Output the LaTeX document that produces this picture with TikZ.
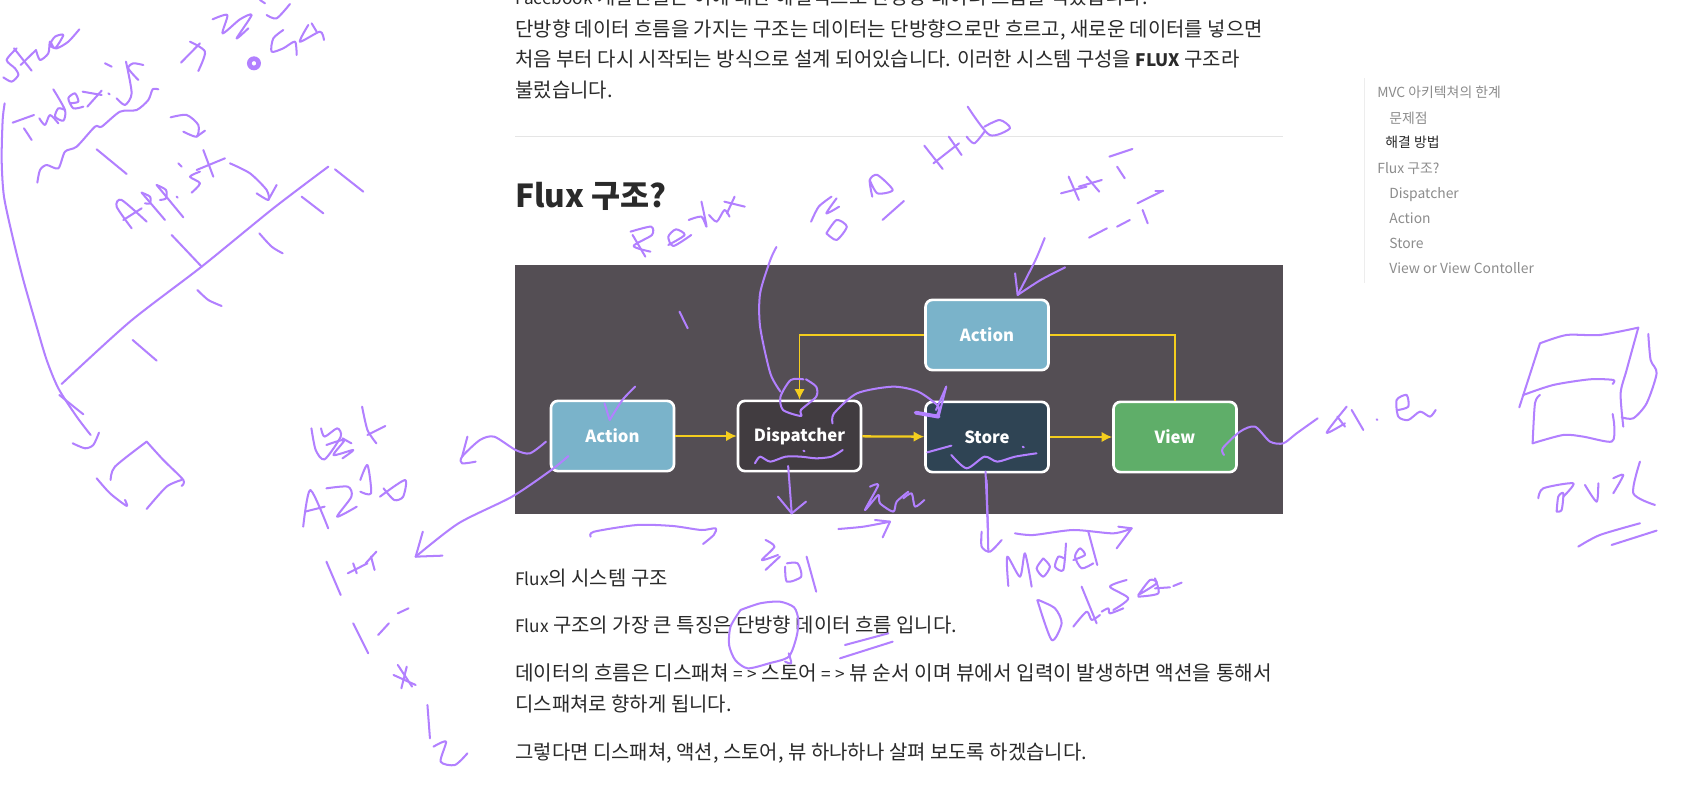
\documentclass[tikz,border=0pt]{standalone}
\usepackage{fontspec}
\usepackage{xcolor}
\setmainfont{Noto Sans CJK KR}
\definecolor{inkpurple}{HTML}{B280FF}
\definecolor{panelgray}{HTML}{544E54}
\definecolor{arrowyellow}{HTML}{F5CE1E}
\definecolor{bodyblack}{HTML}{2A2A2A}
\definecolor{tocgray}{HTML}{8C8C8C}
\tikzset{
  inkline/.style={draw=inkpurple, line width=1.15pt, line cap=round, line join=round},
  bodytext/.style={anchor=base west, inner sep=0pt, text=bodyblack, font=\fontsize{11.35}{13}\selectfont},
  tocitem/.style={anchor=base west, inner sep=0pt, text=tocgray, font=\fontsize{7.9}{10}\selectfont},
  flowbox/.style={draw=white, line width=1.5pt, rounded corners=4pt, minimum width=70pt, minimum height=40pt,
    inner sep=0pt, text=white, font=\fontsize{9.5}{12}\selectfont\bfseries},
  flowline/.style={draw=arrowyellow, line width=1pt},
  flowarrow/.style={flowline, line width=1.3pt, -{Latex[length=6pt,width=6pt]}}
}
\usetikzlibrary{arrows.meta}
\newcommand{\ink}[1]{\draw[inkline] plot[smooth, tension=0.45] coordinates {#1};}
\newcommand{\lat}[1]{{\fontsize{9.8}{12}\selectfont #1}}
\begin{document}
\begin{tikzpicture}[x=0.02cm, y=-0.02cm]
  \useasboundingbox (0,0) rectangle (1681,789);
  \clip (0,0) rectangle (1681,789);
  \fill[white] (0,0) rectangle (1681,789);

  % Article text
  \node[bodytext] (introa) at (515,4) {\lat{Facebook} 개발진들은 이에 대한 해결책으로 단방향 데이터 흐름을 택했습니다.};
  \node[bodytext] (introb) at (515,36) {단방향 데이터 흐름을 가지는 구조는 데이터는 단방향으로만 흐르고, 새로운 데이터를 넣으면};
  \node[bodytext] (introc) at (515,66) {처음 부터 다시 시작되는 방식으로 설계 되어있습니다. 이러한 시스템 구성을 \lat{\textbf{FLUX}} 구조라};
  \node[bodytext] (introd) at (515,97) {불렀습니다.};
  \fill[black!10] (515,135.5) rectangle (1283,136.5);
  \node[bodytext, font=\fontsize{18}{22}\selectfont\bfseries] (heading) at (515,207) {Flux 구조?};

  % Panel
  \fill[panelgray] (515,265) rectangle (1283,514);

  % Boxes
  \node[flowbox, fill={rgb,255:red,122;green,179;blue,202}] (actionleft) at (612.5,436) {Action};
  \node[flowbox, fill={rgb,255:red,65;green,60;blue,64}] (dispatcher) at (799.5,436) {Dispatcher};
  \node[flowbox, fill={rgb,255:red,47;green,68;blue,84}] (store) at (987,437) {Store};
  \node[flowbox, fill={rgb,255:red,95;green,174;blue,105}] (view) at (1175,437) {View};
  \node[flowbox, fill={rgb,255:red,122;green,179;blue,202}] (actiontop) at (987,335) {Action};

  % Flow
  \draw[flowarrow] (actionleft) -- (dispatcher);
  \draw[flowarrow] (dispatcher) -- (store);
  \draw[flowarrow] (store) -- (view);
  \draw[flowline] (view) |- (actiontop);
  \draw[flowline, -{Latex[length=6pt,width=6pt]}] (actiontop) -| (dispatcher);

  % Text under the panel
  \node[bodytext] (captiona) at (515,585) {\lat{Flux}의 시스템 구조};
  \node[bodytext] (captionb) at (515,632) {\lat{Flux} 구조의 가장 큰 특징은 단방향 데이터 흐름 입니다.};
  \node[bodytext, font=\fontsize{11.5}{13}\selectfont] (captionc) at (515,680) {데이터의 흐름은 디스패쳐 \lat{=\hspace{2.5pt}>} 스토어 \lat{=\hspace{2.5pt}>} 뷰 순서 이며 뷰에서 입력이 발생하면 액션을 통해서};
  \node[bodytext] (captiond) at (515,711) {디스패쳐로 향하게 됩니다.};
  \node[bodytext] (captione) at (515,759) {그렇다면 디스패쳐, 액션, 스토어, 뷰 하나하나 살펴 보도록 하겠습니다.};

  % Table of contents
  \fill[black!7] (1363.5,78) rectangle (1364.5,283);
  \node[tocitem] (tocmvc) at (1377,97) {MVC 아키텍쳐의 한계};
  \node[tocitem] (tocproblem) at (1389,123) {문제점};
  \node[tocitem, text=bodyblack] (tocfix) at (1385,147) {해결 방법};
  \node[tocitem] (tocflux) at (1377,173) {Flux 구조?};
  \node[tocitem] (tocdisp) at (1389,198) {Dispatcher};
  \node[tocitem] (tocaction) at (1389,223) {Action};
  \node[tocitem] (tocstore) at (1389,248) {Store};
  \node[tocitem] (tocview) at (1389,273) {View or View Contoller};

  % Pen strokes, left side
  \begin{scope}[xscale=0.3333, yscale=0.3333]
    \ink{(50,145)(20,180)(45,205)(55,225)(35,245)(10,232)}
    \ink{(42,145)(95,212)}
    \ink{(62,195)(108,150)}
    \ink{(108,150)(120,180)(145,160)(150,125)(165,145)(190,105)(165,110)(150,135)(170,145)(205,125)(238,88)}
    \ink{(14,310)(8,360)(5,480)(12,590)(40,720)(70,840)(110,980)(140,1080)(175,1165)(230,1250)(272,1305)}
    \ink{(178,1185)(215,1215)(250,1243)}
    \ink{(218,1330)(255,1345)(280,1335)(297,1298)}
    \ink{(38,368)(102,345)}
    \ink{(72,385)(95,420)}
    \ink{(118,355)(135,375)(150,345)(175,370)}
    \ink{(160,268)(195,330)(190,362)(165,350)(175,325)(195,330)}
    \ink{(210,310)(235,305)(225,280)(205,295)(220,325)(250,320)}
    \ink{(248,275)(305,285)}
    \ink{(262,320)(305,272)}
    \ink{(325,280)(329,283)}
    \ink{(378,185)(395,280)(375,315)(350,295)}
    \ink{(315,190)(335,200)}
    \ink{(430,195)(400,190)(385,205)(415,240)}
    \ink{(112,548)(120,510)(140,495)(175,505)(195,455)(230,440)(285,380)(305,380)(360,335)(410,330)(445,300)(458,268)(475,268)}
    \ink{(543,188)(600,130)}
    \ink{(570,125)(615,155)(595,213)}
    \ink{(638,58)(682,45)(668,100)(720,58)(755,45)(710,115)(745,85)}
    \ink{(780,0)(795,10)}
    \ink{(800,45)(830,55)(870,12)}
    \ink{(850,90)(820,115)(815,155)(850,145)(885,125)(890,165)}
    \ink{(925,75)(900,125)(960,95)(972,120)}
    \ink{(935,70)(950,95)}
    \fill[inkpurple, even odd rule] (762,190) circle (21) (762,190) circle (7);
    \ink{(512,352)(560,345)(595,375)(590,410)(550,395)}
    \ink{(590,410)(615,392)}
    \ink{(290,448)(380,522)}
    \ink{(395,685)(350,620)(365,600)(440,665)}
    \ink{(370,660)(425,625)}
    \ink{(425,578)(495,660)}
    \ink{(425,578)(450,590)(450,610)(435,610)}
    \ink{(470,555)(550,652)}
    \ink{(470,555)(498,570)(498,595)(480,600)}
    \ink{(530,590)(533,593)}
    \ink{(535,490)(545,500)}
    \ink{(600,515)(570,530)(600,550)(575,578)}
    \ink{(610,450)(640,530)}
    \ink{(590,510)(675,475)}
    \ink{(690,490)(750,520)(800,570)(805,600)(770,580)}
    \ink{(805,600)(830,555)}
    \ink{(185,1152)(390,965)(605,800)(820,625)(985,500)}
    \ink{(515,705)(605,800)}
    \ink{(592,870)(625,900)(665,918)}
    \ink{(398,1020)(470,1082)}
    \ink{(778,700)(815,740)(848,760)}
    \ink{(905,590)(970,640)}
    \ink{(1005,508)(1090,575)}
    \ink{(332,1440)(345,1400)(440,1325)}
    \ink{(440,1325)(490,1380)(550,1440)(545,1458)}
    \ink{(545,1440)(500,1460)(440,1527)}
    \ink{(290,1435)(330,1480)(380,1518)(375,1500)}
  \end{scope}

  % Pen strokes, around the first Action box
  \begin{scope}[shift={(280,400)}, xscale=0.357, yscale=0.3333]
    \ink{(88,85)(100,150)(125,178)(170,110)(160,85)(125,110)(115,85)}
    \ink{(230,20)(245,90)(270,130)}
    \ink{(295,78)(245,105)}
    \ink{(175,115)(200,130)}
    \ink{(130,135)(180,120)(150,165)(205,150)(175,175)}
    \ink{(65,380)(85,270)(135,385)}
    \ink{(70,335)(125,320)}
    \ink{(130,265)(190,260)(200,290)(160,350)(215,320)}
    \ink{(225,240)(245,195)(255,280)(225,275)}
    \ink{(280,290)(350,240)(345,290)(320,300)(290,265)}
    \ink{(130,485)(170,585)}
    \ink{(190,520)(245,490)}
    \ink{(205,490)(215,520)}
    \ink{(240,490)(270,455)}
    \ink{(255,470)(265,510)}
    \ink{(205,670)(247,760)}
    \ink{(275,705)(305,670)}
    \ink{(330,640)(360,625)}
    \ink{(330,795)(370,860)}
    \ink{(355,800)(340,865)}
    \ink{(318,825)(380,855)}
    \ink{(413,915)(420,1015)}
    \ink{(430,1040)(465,1025)(450,1085)(490,1095)(525,1060)}
    \ink{(808,168)(760,210)(650,290)(500,370)(380,470)}
    \ink{(380,470)(455,467)}
    \ink{(380,470)(400,395)}
    \ink{(745,125)(700,160)(660,150)(600,110)(560,120)(510,170)(510,190)(548,185)}
    \ink{(510,170)(525,110)}
    \ink{(870,410)(880,395)(1000,375)(1100,378)(1180,390)(1220,385)(1215,405)(1185,432)}
    \ink{(1360,420)(1385,440)(1350,480)(1395,465)}
    \ink{(1360,510)(1400,470)}
    \ink{(1420,490)(1450,490)(1460,530)(1420,545)(1415,500)}
    \ink{(1475,470)(1502,575)}
    \ink{(1290,630)(1345,610)(1400,605)(1440,622)(1452,660)(1447,710)(1425,770)(1370,790)(1310,805)(1275,780)(1258,735)(1262,680)(1290,630)}
    \ink{(1415,785)(1432,790)(1425,760)}
  \end{scope}

  % Pen strokes, over the heading area
  \begin{scope}[shift={(500,0)}, xscale=0.51, yscale=0.3333]
    \ink{(256,695)(296,680)(298,705)(262,738)(295,755)}
    \ink{(260,705)(285,770)}
    \ink{(330,735)(362,705)(345,688)(330,710)(340,738)(375,705)}
    \ink{(370,660)(395,650)(405,680)(395,605)}
    \ink{(410,645)(425,665)(440,630)(450,650)}
    \ink{(440,605)(480,620)}
    \ink{(460,590)(445,640)}
    \ink{(610,665)(625,620)(650,590)}
    \ink{(660,595)(640,640)(665,620)}
    \ink{(640,700)(660,720)(680,680)(660,660)(640,700)}
    \ink{(725,540)(740,580)(770,570)(740,525)(725,540)(730,590)}
    \ink{(750,660)(792,603)}
    \ink{(832,437)(868,507)}
    \ink{(850,490)(900,430)}
    \ink{(880,410)(905,465)}
    \ink{(915,410)(930,430)(950,395)}
    \ink{(917,320)(960,405)(1000,385)(980,360)(950,380)}
    \ink{(1100,580)(1150,560)}
    \ink{(1115,530)(1135,600)}
    \ink{(1135,560)(1180,540)}
    \ink{(1150,530)(1175,575)}
    \ink{(1210,500)(1225,535)}
    \ink{(1195,470)(1240,447)}
    \ink{(1155,713)(1190,685)}
    \ink{(1210,680)(1235,660)}
    \ink{(1260,630)(1270,670)}
    \ink{(1250,610)(1300,572)}
    \ink{(1300,572)(1285,572)}
  \end{scope}

  % Pen strokes on the panel
  \begin{scope}[shift={(500,260)}, xscale=0.51, yscale=0.3333]
    \ink{(1068,-66)(1050,0)(1015,105)}
    \ink{(1010,40)(1015,105)}
    \ink{(1015,105)(1060,60)(1108,22)}
    \ink{(542,-39)(530,0)(510,100)(510,200)(530,340)(550,395)}
    \ink{(595,358)(570,360)(550,410)(555,450)(590,468)(590,450)(620,410)(620,380)(600,358)}
    \ink{(352,155)(368,205)}
    \ink{(265,380)(240,420)(215,480)}
    \ink{(215,480)(205,430)}
    \ink{(652,490)(655,460)(700,400)(770,380)(820,395)(860,440)(855,470)}
    \draw[inkline, line width=2.2pt] (815,458) -- (860,470);
    \ink{(860,470)(875,380)}
    \ink{(875,380)(855,450)}
    \ink{(500,610)(510,590)(530,605)(560,590)(590,590)(620,595)(650,590)(672,570)}
    \ink{(595,572)(597,574)}
    \ink{(565,618)(572,760)}
    \ink{(572,760)(545,710)}
    \ink{(572,760)(600,725)}
    \ink{(838,577)(885,557)}
    \ink{(885,585)(915,625)(950,590)(975,605)(1010,590)(1052,580)}
    \ink{(1025,560)(1027,562)}
    \ink{(952,635)(957,810)}
  \end{scope}

  % Pen strokes below the panel
  \begin{scope}[shift={(780,480)}, xscale=0.3333, yscale=0.3333]
    \ink{(195,495)(325,460)}
    \ink{(180,535)(338,485)}
    \ink{(175,147)(250,140)(330,125)}
    \ink{(330,125)(285,120)}
    \ink{(330,125)(308,172)}
    \ink{(270,20)(295,15)(255,90)(295,45)(300,70)(340,95)(350,65)(385,35)}
    \ink{(370,55)(395,40)(405,80)(433,60)}
    \ink{(620,0)(625,215)}
    \ink{(605,155)(605,200)(630,215)(665,180)}
    \ink{(705,160)(760,165)(880,150)(1000,160)(1055,145)}
    \ink{(1055,145)(1010,205)}
    \ink{(1015,140)(1055,145)}
    \ink{(685,318)(682,230)(720,290)(735,220)(755,320)}
    \ink{(790,235)(770,265)(790,290)(810,260)(790,235)}
    \ink{(858,190)(850,270)(825,260)(835,230)(852,235)}
    \ink{(880,240)(915,225)(900,205)(885,230)(905,265)(940,250)}
    \ink{(925,155)(952,255)}
    \ink{(772,360)(815,480)(845,430)(825,385)(775,360)}
    \ink{(880,440)(920,395)(935,420)(960,405)}
    \ink{(905,320)(950,430)}
    \ink{(965,395)(985,385)(990,400)(1030,385)}
    \ink{(1040,300)(990,320)(1045,355)(1000,390)}
    \ink{(1075,345)(1130,310)(1110,300)(1075,345)}
    \ink{(1075,350)(1135,340)(1125,295)}
    \ink{(1125,325)(1170,322)}
    \ink{(1180,318)(1205,308)}
  \end{scope}

  % Pen strokes, right side
  \begin{scope}[shift={(1200,60)}, xscale=0.3333, yscale=0.3333]
    \ink{(353,1075)(290,1120)(250,1150)(210,1145)(165,1100)(120,1115)(68,1165)(72,1185)}
    \ink{(440,1040)(380,1118)(435,1090)}
    \ink{(412,1070)(435,1100)}
    \ink{(455,1050)(490,1110)}
    \ink{(530,1078)(532,1080)}
    \ink{(595,1050)(625,1040)(620,1005)(590,1020)(595,1070)(625,1080)(660,1055)(690,1070)(707,1050)}
    \ink{(958,1042)(1020,850)}
    \ink{(1020,850)(1100,825)(1200,825)(1315,803)}
    \ink{(1315,803)(1280,930)(1262,1000)(1270,1100)}
    \ink{(970,1005)(1060,975)(1170,958)(1240,960)(1238,972)}
    \ink{(1020,1005)(1005,1030)(998,1150)}
    \ink{(998,1150)(1090,1125)(1150,1130)(1235,1145)(1243,1100)(1238,1062)}
    \ink{(1345,822)(1352,900)(1370,940)(1340,1030)(1300,1075)(1265,1072)}
    \ink{(1015,1315)(1030,1285)(1120,1270)(1090,1310)}
    \ink{(1070,1355)(1075,1310)(1090,1300)(1085,1350)(1070,1355)}
    \ink{(1155,1275)(1190,1325)(1195,1270)}
    \ink{(1240,1255)(1270,1245)(1240,1300)}
    \ink{(1320,1205)(1300,1300)(1365,1335)}
    \ink{(1135,1460)(1200,1425)(1320,1390)}
    \ink{(1235,1455)(1370,1412)}
  \end{scope}
\end{tikzpicture}
\end{document}
